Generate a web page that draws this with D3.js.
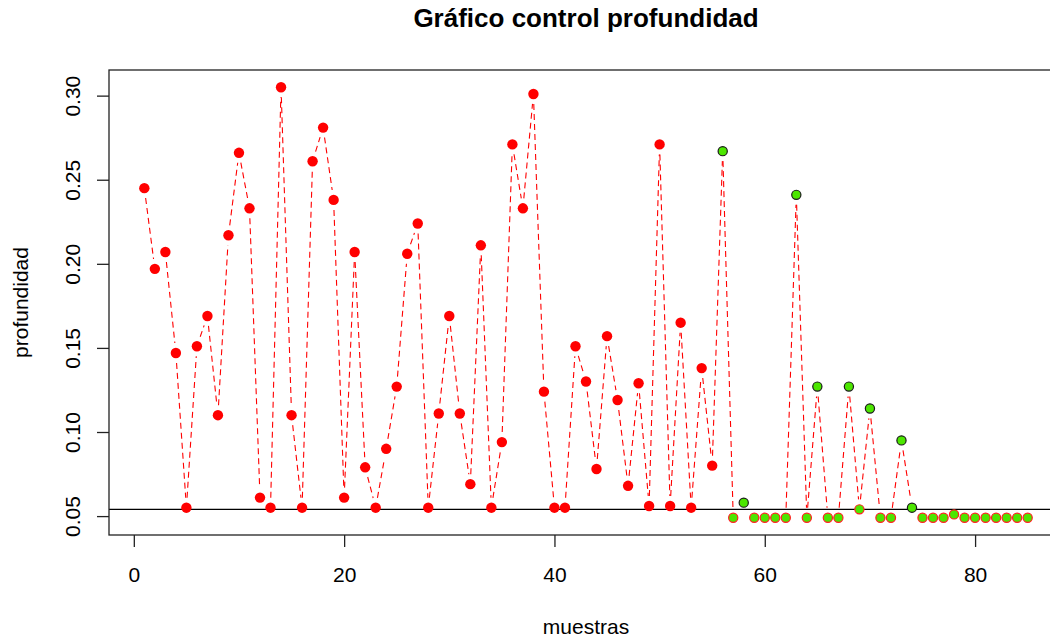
<!DOCTYPE html>
<html lang="es">
<head>
<meta charset="UTF-8">
<title>Gráfico control profundidad</title>
<script src="https://cdn.jsdelivr.net/npm/d3@7"></script>
<style>
  body { margin: 0; background: #fff; }
  svg { display: block; font-family: "Liberation Sans", Arial, sans-serif; }
</style>
</head>
<body>
<script>
// valores de profundidad por muestra (1..85)
var profundidad = [
  0.245, 0.197, 0.207, 0.147, 0.055, 0.151, 0.169, 0.110, 0.217, 0.266,
  0.233, 0.061, 0.055, 0.305, 0.110, 0.055, 0.261, 0.281, 0.238, 0.061,
  0.207, 0.079, 0.055, 0.090, 0.127, 0.206, 0.224, 0.055, 0.111, 0.169,
  0.111, 0.069, 0.211, 0.055, 0.094, 0.271, 0.233, 0.301, 0.124, 0.055,
  0.055, 0.151, 0.130, 0.078, 0.157, 0.119, 0.068, 0.129, 0.056, 0.271,
  0.056, 0.165, 0.055, 0.138, 0.080, 0.267, 0.049, 0.058, 0.049, 0.049,
  0.049, 0.049, 0.241, 0.049, 0.127, 0.049, 0.049, 0.127, 0.054, 0.114,
  0.049, 0.049, 0.095, 0.055, 0.049, 0.049, 0.049, 0.051, 0.049, 0.049,
  0.049, 0.049, 0.049, 0.049, 0.049
];
var muestras = d3.range(1, profundidad.length + 1);
var inicioVerde = 56;      // desde esta muestra los puntos van en verde
var umbral = 0.054;        // linea de control horizontal
var xTicks = [0, 20, 40, 60, 80];
var yTicks = [0.05, 0.10, 0.15, 0.20, 0.25, 0.30];

var width = 1050, height = 638;
var plot = {left: 109, right: 1063, top: 70, bottom: 535};

var svg = d3.select('body').append('svg')
    .attr('width', width).attr('height', height);

// R extiende los ejes un 4%
var xr = 84 * 0.04, yr = (d3.max(profundidad) - d3.min(profundidad)) * 0.04;
var x = d3.scaleLinear().domain([1 - xr, profundidad.length + xr]).range([plot.left, plot.right]);
var y = d3.scaleLinear().domain([d3.min(profundidad) - yr, d3.max(profundidad) + yr]).range([plot.bottom, plot.top]);

svg.append('defs').append('clipPath').attr('id', 'clip')
  .append('rect').attr('x', 0).attr('y', 0).attr('width', width).attr('height', height);

var g = svg.append('g').attr('clip-path', 'url(#clip)');

// linea discontinua con huecos alrededor de los puntos (type = "b")
var gap = 10;
for (var i = 0; i < profundidad.length - 1; i++) {
    var x1 = x(muestras[i]), y1 = y(profundidad[i]);
    var x2 = x(muestras[i + 1]), y2 = y(profundidad[i + 1]);
    var dx = x2 - x1, dy = y2 - y1, len = Math.sqrt(dx * dx + dy * dy);
    if (len <= 2 * gap) continue;
    var ux = dx / len, uy = dy / len;
    g.append('line')
        .attr('x1', x1 + ux * gap).attr('y1', y1 + uy * gap)
        .attr('x2', x2 - ux * gap).attr('y2', y2 - uy * gap)
        .attr('stroke', '#ff0000').attr('stroke-width', 1.1)
        .attr('stroke-dasharray', '6,4');
}

// linea de control
g.append('line')
    .attr('x1', plot.left).attr('x2', plot.right)
    .attr('y1', y(umbral)).attr('y2', y(umbral))
    .attr('stroke', '#000').attr('stroke-width', 1.3);

// puntos
g.selectAll('circle.pt').data(muestras)
  .enter().append('circle')
    .attr('class', 'pt')
    .attr('cx', function(d) { return x(d); })
    .attr('cy', function(d, i) { return y(profundidad[i]); })
    .attr('r', function(d) { return d < inicioVerde ? 5.2 : 4.6; })
    .attr('fill', function(d) { return d < inicioVerde ? '#ff0000' : '#4ce600'; })
    .attr('stroke', function(d, i) {
        if (d < inicioVerde) return 'none';
        return profundidad[i] > umbral ? '#1a1a1a' : '#ff2020';
    })
    .attr('stroke-width', 1.2);

// caja
g.append('rect')
    .attr('x', plot.left).attr('y', plot.top)
    .attr('width', plot.right - plot.left).attr('height', plot.bottom - plot.top)
    .attr('fill', 'none').attr('stroke', '#222').attr('stroke-width', 1.3);

// ejes
var xAxis = svg.append('g').attr('transform', 'translate(0,' + plot.bottom + ')')
    .call(d3.axisBottom(x).tickValues(xTicks).tickSize(12).tickPadding(20).tickSizeOuter(0));
xAxis.select('.domain').remove();
xAxis.selectAll('line').attr('stroke', '#222').attr('stroke-width', 1.3);
xAxis.selectAll('text').attr('font-size', 21).attr('fill', '#000')
    .attr('font-family', '"Liberation Sans", Arial, sans-serif');

var yAxis = svg.append('g').attr('transform', 'translate(' + plot.left + ',0)')
    .call(d3.axisLeft(y).tickValues(yTicks).tickSize(12).tickSizeOuter(0).tickFormat(d3.format('.2f')));
yAxis.select('.domain').remove();
yAxis.selectAll('line').attr('stroke', '#222').attr('stroke-width', 1.3);
yAxis.selectAll('text')
    .attr('font-size', 21).attr('fill', '#000')
    .attr('font-family', '"Liberation Sans", Arial, sans-serif')
    .attr('text-anchor', 'middle')
    .attr('dy', 0).attr('x', 0)
    .attr('transform', 'translate(-29,0) rotate(-90)');

// titulos
svg.append('text')
    .attr('x', (plot.left + plot.right) / 2).attr('y', 27)
    .attr('text-anchor', 'middle').attr('font-size', 26).attr('font-weight', 'bold')
    .text('Gráfico control profundidad');

svg.append('text')
    .attr('x', (plot.left + plot.right) / 2).attr('y', 634)
    .attr('text-anchor', 'middle').attr('font-size', 21)
    .text('muestras');

svg.append('text')
    .attr('transform', 'translate(28,' + (plot.top + plot.bottom) / 2 + ') rotate(-90)')
    .attr('text-anchor', 'middle').attr('font-size', 21)
    .text('profundidad');
</script>
</body>
</html>
